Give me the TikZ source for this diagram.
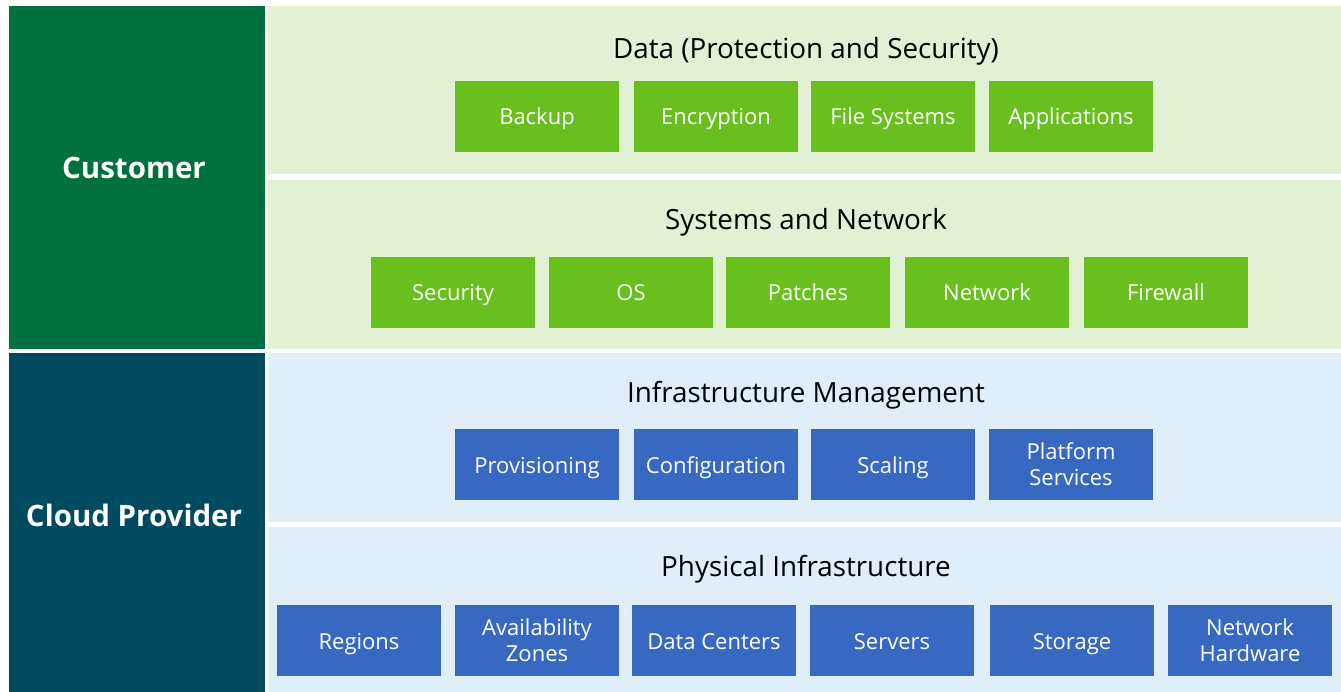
\documentclass[tikz,border=0pt]{standalone}
\usepackage{fontspec}
\setmainfont{Open Sans}
\definecolor{dgreen}{RGB}{0,112,62}
\definecolor{dblue}{RGB}{0,74,97}
\definecolor{lgreen}{RGB}{226,240,212}
\definecolor{lblue}{RGB}{223,238,249}
\definecolor{bgreen}{RGB}{104,191,30}
\definecolor{bblue}{RGB}{55,105,194}
\begin{document}
\begin{tikzpicture}[x=1pt,y=-1pt,
  side/.style={rectangle,inner sep=0pt,anchor=north west,font=\fontsize{29.5}{32}\selectfont\bfseries,text=white},
  panel/.style={rectangle,inner sep=0pt,anchor=north west,minimum width=1073pt},
  ttl/.style={font=\fontsize{27.8}{30}\selectfont,text=black,inner sep=0pt,anchor=base},
  gbox/.style={rectangle,fill=bgreen,minimum width=164pt,minimum height=71pt,inner sep=0pt,text=white,font=\fontsize{22}{26}\selectfont,align=center},
  one/.style={text height=17pt,text depth=0pt},
  bbox/.style={gbox,fill=bblue}]
\useasboundingbox (0,0) rectangle (1341,692);
\fill[white] (0,0) rectangle (1341,692);
% left column
\node[side,fill=dgreen,minimum width=256pt,minimum height=343pt] (cust) at (9,6) {};
\node[side,fill=dblue,minimum width=256pt,minimum height=339pt] (prov) at (9,353) {};
\node[side,anchor=center] (custlbl) at (134,167.5) {Customer};
\node[side,anchor=center] (provlbl) at (134,515.5) {Cloud Provider};
% panels
\node[panel,fill=lgreen,minimum height=168pt] (p1) at (268,6) {};
\node[panel,fill=lgreen,minimum height=169pt] (p2) at (268,180) {};
\node[panel,fill=lblue,minimum height=169pt] (p3) at (268,353) {};
\node[panel,fill=lblue,minimum height=165pt] (p4) at (268,527) {};
% titles
\node[ttl] (t1) at (806,58.5) {Data (Protection and Security)};
\node[ttl] (t2) at (806,229.5) {Systems and Network};
\node[ttl] (t3) at (806,402.5) {Infrastructure Management};
\node[ttl] (t4) at (806,576.5) {Physical Infrastructure};
% row 1
\node[gbox,one] (backup) at (537,116.5) {Backup};
\node[gbox,one] (encr) at (716,116.5) {Encryption};
\node[gbox,one] (fs) at (893,116.5) {File Systems};
\node[gbox,one] (apps) at (1071,116.5) {Applications};
% row 2
\node[gbox,one] (sec) at (453,292.5) {Security};
\node[gbox,one] (os) at (631,292.5) {OS};
\node[gbox,one] (patch) at (808,292.5) {Patches};
\node[gbox,one] (net) at (987,292.5) {Network};
\node[gbox,one] (fw) at (1166,292.5) {Firewall};
% row 3
\node[bbox,one] (prov1) at (537,464.5) {Provisioning};
\node[bbox,one] (conf) at (716,464.5) {Configuration};
\node[bbox,one] (scal) at (893,464.5) {Scaling};
\node[bbox] (plat) at (1071,464.5) {Platform\\Services};
% row 4
\node[bbox,one] (reg) at (359,640.5) {Regions};
\node[bbox] (az) at (537,640.5) {Availability\\Zones};
\node[bbox,one] (dc) at (714,640.5) {Data Centers};
\node[bbox,one] (srv) at (892,640.5) {Servers};
\node[bbox,one] (stor) at (1072,640.5) {Storage};
\node[bbox] (nh) at (1250,640.5) {Network\\Hardware};
\end{tikzpicture}
\end{document}
